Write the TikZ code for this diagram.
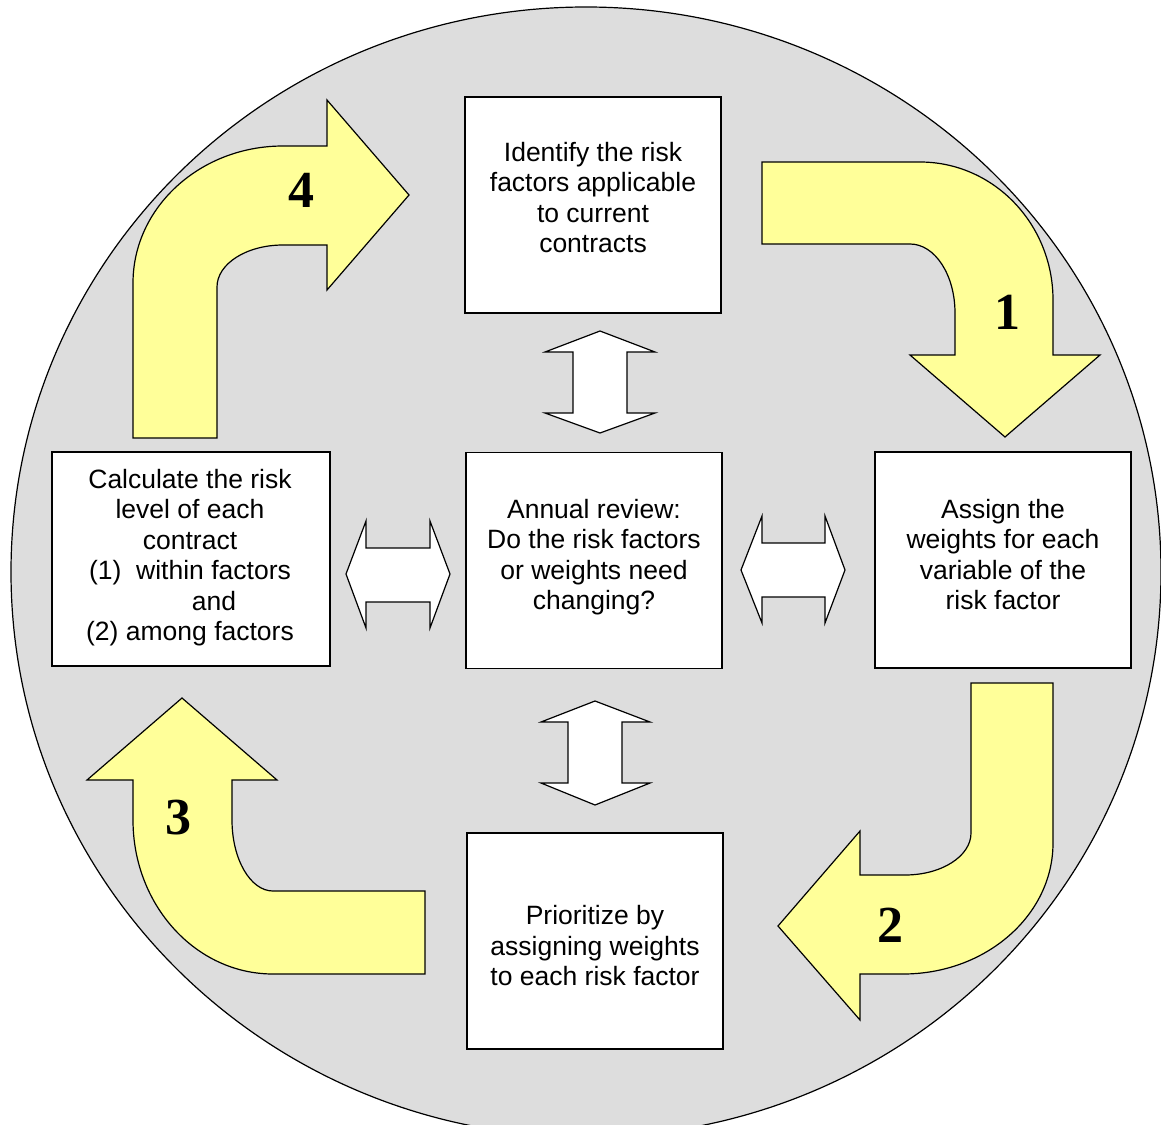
\documentclass[tikz,border=0pt]{standalone}
\usepackage{fontspec}
\setmainfont{Liberation Sans}
\newfontfamily\numfont{Liberation Serif}
\definecolor{circlegray}{RGB}{221,221,221}
\definecolor{arrowyellow}{RGB}{255,255,153}
\begin{document}
\begin{tikzpicture}[x=1pt,y=-1pt,
  box/.style={draw=black, fill=white, line width=1.2pt, inner sep=0pt},
  txt/.style={inner sep=0pt, align=center, font=\fontsize{26.5}{30.5}\selectfont},
  bent/.style={draw=black, fill=arrowyellow, line width=1.2pt, line join=miter},
  dbl/.style={draw=black, fill=white, line width=1.2pt, line join=miter},
  numlbl/.style={font=\numfont\bfseries\fontsize{52}{52}\selectfont, inner sep=0pt}]
\useasboundingbox (0,0) rectangle (1161,1124);
\begin{scope}
  \clip (0,0) rectangle (1161,1124);
  \fill[circlegray] (586,572) ellipse [x radius=575, y radius=565];
  \draw[line width=1.2pt] (586,572) ellipse [x radius=575, y radius=565];
\end{scope}

% boxes
\node[box, minimum width=256pt, minimum height=216pt] (identify) at (593,205) {};
\node[txt] (identify-t) at (593,197.5)
  {Identify the risk\\factors applicable\\to current\\contracts};
\node[box, minimum width=256pt, minimum height=216pt] (review) at (594,560.5) {};
\node[txt] (review-t) at (594,557)
  {Annual review:\\Do the risk factors\\or weights need\\changing?};
\node[box, minimum width=256pt, minimum height=216pt] (assign) at (1003,560) {};
\node[txt] (assign-t) at (1003,554.5)
  {Assign the\\weights for each\\variable of the\\risk factor};
\node[box, minimum width=256pt, minimum height=216pt] (prior) at (595,941) {};
\node[txt] (prior-t) at (595,946)
  {Prioritize by\\assigning weights\\to each risk factor};
\node[box, minimum width=278pt, minimum height=214pt] (calc) at (191,559) {};
\node[txt] (calc-t) at (190,557.5)
  {Calculate the risk\\level of each\\contract\\(1)\ \ within factors\\\hspace*{48pt}and\\(2) among factors};

% double arrows
\draw[dbl] (600,331) -- (655,352) -- (627,352) -- (627,413) -- (655,413) -- (600,433)
  -- (545,413) -- (573,413) -- (573,352) -- (545,352) -- cycle;
\draw[dbl] (595,701) -- (650,722) -- (622,722) -- (622,783) -- (650,783) -- (595,805)
  -- (541,783) -- (568,783) -- (568,722) -- (541,722) -- cycle;
\draw[dbl] (346,574) -- (366,521) -- (366,548) -- (430,548) -- (430,521) -- (450,574)
  -- (430,628) -- (430,602) -- (366,602) -- (366,628) -- cycle;
\draw[dbl] (741,570) -- (762,516) -- (762,543) -- (825,543) -- (825,516) -- (845,570)
  -- (825,623) -- (825,597) -- (762,597) -- (762,623) -- cycle;

% bent arrow 1
\draw[bent] (762,162) -- (920,162)
  .. controls (993.5,162) and (1053,223.8) .. (1053,300)
  -- (1053,355) -- (1100,355) -- (1005,437) -- (910,355) -- (955,355) -- (955,313)
  .. controls (955,274.9) and (934.9,244) .. (910,244)
  -- (762,244) -- cycle;
% bent arrow 2
\draw[bent] (971,683) -- (1053,683) -- (1053,843)
  .. controls (1053,915.4) and (985.8,974) .. (903,974)
  -- (860,974) -- (860,1020) -- (778,926) -- (860,831) -- (860,875) -- (905,875)
  .. controls (941.5,875) and (971,856.2) .. (971,833)
  -- cycle;
% bent arrow 3
\draw[bent] (425,891) -- (425,974) -- (273,974)
  .. controls (195.7,974) and (133,905.1) .. (133,820)
  -- (133,780) -- (87,780) -- (182,698) -- (277,780) -- (232,780) -- (232,820)
  .. controls (232,859.2) and (250.4,891) .. (273,891)
  -- cycle;
% bent arrow 4
\draw[bent] (133,438) -- (133,283)
  .. controls (133,207.3) and (200.2,146) .. (283,146)
  -- (327,146) -- (327,100) -- (409,195) -- (327,290) -- (327,245) -- (283,245)
  .. controls (246.5,245) and (217,263.8) .. (217,287)
  -- (217,438) -- cycle;

\node[numlbl] (n1) at (1007,312) {1};
\node[numlbl] (n2) at (890,925) {2};
\node[numlbl] (n3) at (178,818) {3};
\node[numlbl] (n4) at (301,190) {4};
\end{tikzpicture}
\end{document}
